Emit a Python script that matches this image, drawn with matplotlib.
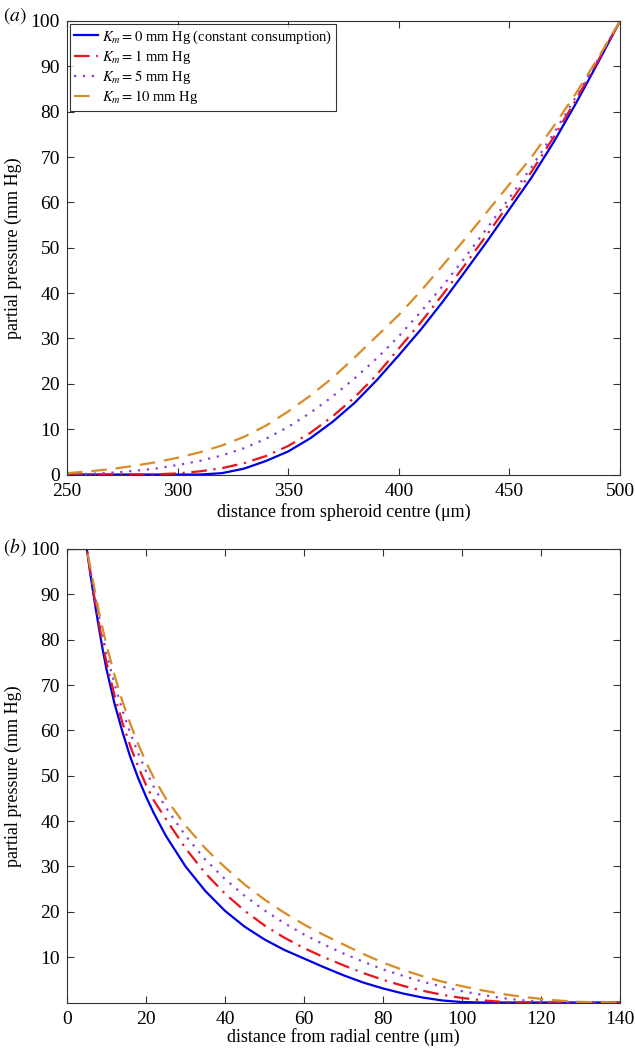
import numpy as np
import matplotlib
matplotlib.use("Agg")
import matplotlib.pyplot as plt

plt.rcParams["font.family"] = ["Liberation Serif", "DejaVu Serif"]
plt.rcParams["mathtext.fontset"] = "stix"

# (a) spheroid, distance from centre in um
r_sph = [250, 260, 270, 280, 290, 300, 310, 320, 330, 340, 350, 360, 370,
         380, 390, 400, 410, 420, 430, 440, 450, 460, 470, 480, 490, 500]
p_sph_km0 = [0, 0, 0, 0, 0, 0, 0, 0.3, 1.3, 3.0, 5.1, 8.0, 11.6,
             15.8, 20.8, 26.3, 32.0, 38.2, 44.8, 51.5, 58.5, 65.5, 73.3, 81.8, 90.8, 100]
p_sph_km1 = [0, 0, 0, 0, 0.05, 0.25, 0.7, 1.4, 2.5, 4.1, 6.3, 9.2, 12.8,
             17.0, 22.0, 27.8, 33.6, 39.8, 46.3, 53.0, 59.8, 66.8, 74.4, 82.6, 91.2, 100]
p_sph_km5 = [0.05, 0.15, 0.4, 0.8, 1.3, 2.1, 3.0, 4.2, 5.8, 7.9, 10.5, 13.6, 17.2,
             21.2, 25.6, 30.5, 35.9, 41.7, 47.9, 54.4, 61.0, 67.8, 75.2, 83.2, 91.5, 100]
p_sph_km10 = [0.3, 0.7, 1.2, 1.9, 2.7, 3.7, 4.9, 6.4, 8.3, 10.8, 13.9, 17.4, 21.3,
              25.8, 30.5, 35.2, 40.5, 46.2, 52.0, 58.0, 64.0, 70.0, 76.8, 84.0, 91.8, 100]

# (b) radial geometry, distance from radial centre in um
r_rad = [0, 5, 6, 7, 8, 9, 10, 12, 14, 16, 18, 20, 22, 25, 30, 35, 40, 45, 50,
         55, 60, 65, 70, 75, 80, 85, 90, 95, 100, 105, 110, 115, 120, 125, 130, 135, 140]
p_rad_km0 = [100, 100, 94, 88.3, 83, 78, 73.5, 66, 59.8, 54.2, 49.5, 45.4, 41.7, 36.8, 30, 24.6,
             20.2, 16.7, 13.9, 11.6, 9.7, 7.8, 6.0, 4.4, 3.1, 2.0, 1.1, 0.45, 0.1, 0, 0, 0, 0, 0, 0, 0, 0]
p_rad_km1 = [100, 100, 94.5, 89, 84, 79.3, 75, 67.8, 61.8, 56.6, 52.0, 48.0, 44.5, 40.5, 34, 28.5,
             24, 20.2, 17, 14.3, 12, 10, 8.2, 6.5, 5.0, 3.7, 2.6, 1.7, 1.0, 0.5, 0.15, 0, 0, 0, 0, 0, 0]
p_rad_km5 = [100, 100, 95, 90, 85.3, 81, 77, 70.3, 64.5, 59.4, 55, 51, 47.5, 43, 36.8, 31.5,
             27.2, 23.5, 20.3, 17.5, 15.0, 12.8, 10.8, 9.0, 7.3, 5.9, 4.6, 3.5, 2.5, 1.7, 1.0, 0.5,
             0.2, 0.05, 0, 0, 0]
p_rad_km10 = [100, 100, 95.5, 91, 86.5, 82.5, 78.8, 72.3, 66.5, 61.5, 57, 53, 49.5, 45, 39, 34,
              29.8, 26, 22.7, 19.8, 17.2, 14.9, 12.8, 10.7, 8.8, 7.2, 5.8, 4.6, 3.6, 2.7, 1.9, 1.3,
              0.8, 0.4, 0.15, 0.03, 0]

labels = [r"$K_m = 0$ mm Hg (constant consumption)",
          r"$K_m = 1$ mm Hg",
          r"$K_m = 5$ mm Hg",
          r"$K_m = 10$ mm Hg"]
colors = ["#0000e6", "#e8141e", "#8a3ee0", "#d98c26"]
dashes = [None, (7, 3, 1, 3), (1, 3), (7, 4)]

fig = plt.figure(figsize=(6.35, 10.48), dpi=100)
ax1 = fig.add_axes([0.1055, 0.5472, 0.871, 0.4328])
ax2 = fig.add_axes([0.1055, 0.0434, 0.871, 0.4328])

series_a = [p_sph_km0, p_sph_km1, p_sph_km5, p_sph_km10]
series_b = [p_rad_km0, p_rad_km1, p_rad_km5, p_rad_km10]

for i in range(4):
    kw = dict(color=colors[i], lw=1.6, label=labels[i])
    l1, = ax1.plot(r_sph, series_a[i], **kw)
    l2, = ax2.plot(r_rad, series_b[i], **kw)
    if dashes[i] is not None:
        l1.set_dashes(dashes[i])
        l2.set_dashes(dashes[i])

ax1.set_xlim(250, 500)
ax1.set_ylim(0, 100)
ax1.set_xticks(np.arange(250, 501, 50))
ax1.set_yticks(np.arange(0, 101, 10))
ax1.set_xlabel("distance from spheroid centre (μm)", fontsize=13, labelpad=2)
ax1.set_ylabel("partial pressure (mm Hg)", fontsize=13, labelpad=6)

ax2.set_xlim(0, 140)
ax2.set_ylim(0, 100)
ax2.set_xticks(np.arange(0, 141, 20))
ax2.set_yticks(np.arange(10, 101, 10))
ax2.set_xlabel("distance from radial centre (μm)", fontsize=13, labelpad=0)
ax2.set_ylabel("partial pressure (mm Hg)", fontsize=13, labelpad=6)

for ax in (ax1, ax2):
    for side in ("top", "bottom", "left", "right"):
        ax.spines[side].set_linewidth(0.8)
        ax.spines[side].set_color("#333333")
    ax.tick_params(direction="in", length=5, width=0.8, labelsize=14,
                   top=True, right=True, color="#333333")
    ax.tick_params(axis="x", pad=6)
    ax.tick_params(axis="y", pad=5)

leg = ax1.legend(loc="upper left", fontsize=10.5, frameon=True, fancybox=False,
                 handlelength=1.6, handletextpad=0.3, borderpad=0.3,
                 labelspacing=0.15, borderaxespad=0.2)
leg.get_frame().set_edgecolor("black")
leg.get_frame().set_linewidth(0.8)

fig.text(0.005, 0.985, r"$(\mathit{a})$", fontsize=14, va="center")
fig.text(0.005, 0.478, r"$(\mathit{b})$", fontsize=14, va="center")

fig.savefig("out.png", dpi=100)
